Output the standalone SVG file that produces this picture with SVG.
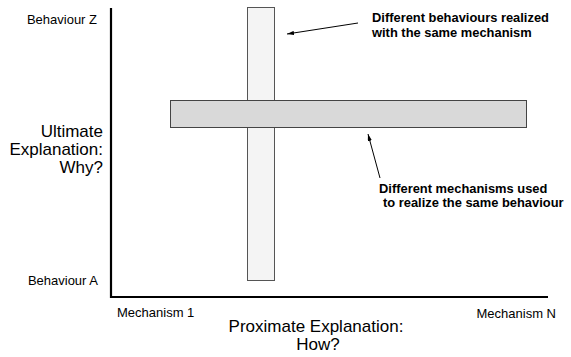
<svg xmlns="http://www.w3.org/2000/svg" width="571" height="357" viewBox="0 0 571 357">
<style>
.t{font-family:"Liberation Sans",Arial,sans-serif;fill:#000}
.s{font-size:13px}
.l{font-size:17px}
.b{font-size:12.9px;font-weight:bold}
.ax{stroke:#000;stroke-width:2.2;fill:none}
.ar{stroke:#000;stroke-width:1;fill:none;marker-end:url(#ah)}
</style>
<defs>
<marker id="ah" viewBox="0 0 10 6" refX="10" refY="3" markerWidth="7" markerHeight="4.2" markerUnits="userSpaceOnUse" orient="auto">
<path d="M0,0 L10,3 L0,6 z" fill="#000"/>
</marker>
</defs>
<rect width="571" height="357" fill="#fff"/>
<g id="axes">
<path class="ax" d="M111,8 V297 H548"/>
</g>
<g id="vertical-bar">
<rect x="247.5" y="7.5" width="27" height="273" fill="#f4f4f4" stroke="#555" stroke-width="1"/>
</g>
<g id="horizontal-bar">
<rect x="170.5" y="100.5" width="356" height="27" fill="#d9d9d9" stroke="#444" stroke-width="1"/>
</g>
<g id="connectors">
<line class="ar" x1="358" y1="23" x2="287" y2="34"/>
<line class="ar" x1="380" y1="178" x2="368" y2="134"/>
</g>
<g id="labels">
<text class="t s" x="97" y="24" text-anchor="end">Behaviour Z</text>
<text class="t s" x="98" y="285" text-anchor="end">Behaviour A</text>
<text class="t l" x="103" y="137" text-anchor="end">Ultimate</text>
<text class="t l" x="103" y="155" text-anchor="end">Explanation:</text>
<text class="t l" x="103" y="173" text-anchor="end">Why?</text>
<text class="t s" x="117" y="317">Mechanism 1</text>
<text class="t s" x="556" y="318" text-anchor="end">Mechanism N</text>
<text class="t l" x="316" y="331.5" text-anchor="middle">Proximate Explanation:</text>
<text class="t l" x="318" y="350" text-anchor="middle">How?</text>
<text class="t b" x="372" y="22">Different behaviours realized</text>
<text class="t b" x="372" y="37">with the same mechanism</text>
<text class="t b" x="379" y="193">Different mechanisms used</text>
<text class="t b" x="383" y="207">to realize the same behaviour</text>
</g>
</svg>
